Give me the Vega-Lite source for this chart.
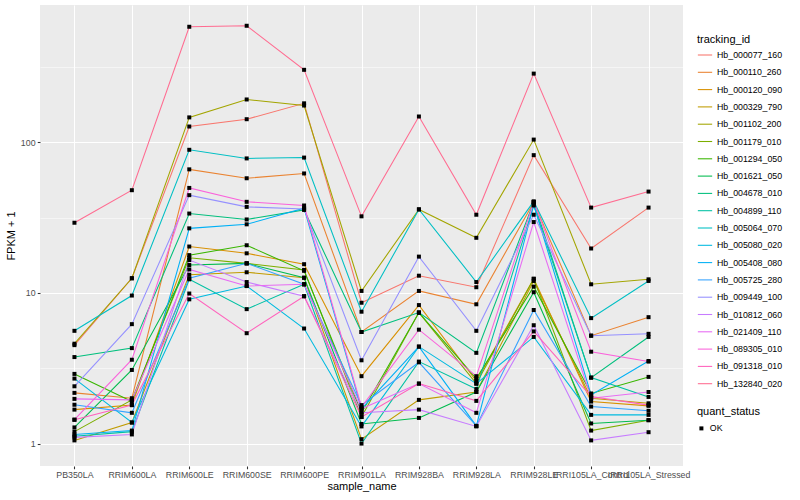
{
"$schema": "https://vega.github.io/schema/vega-lite/v6.json",
"autosize": {"type": "none"},
"padding": {"left": 40, "top": 5, "right": 117, "bottom": 34},
"width": 643,
"height": 461,
"background": "white",
"config": {
  "font": "Liberation Sans",
  "view": {"fill": "#EBEBEB", "stroke": null},
  "legend": {"titleFontSize": 11, "titleFontWeight": "normal", "titleColor": "black", "labelFontSize": 8.8, "labelColor": "black", "padding": 0, "titlePadding": 7, "labelOffset": 4}
},
"datasets": {
"rows": [
{"id":"Hb_000077_160","sample":"PB350LA","fpkm":4.5,"status":"OK"},
{"id":"Hb_000077_160","sample":"RRIM600LA","fpkm":12.5,"status":"OK"},
{"id":"Hb_000077_160","sample":"RRIM600LE","fpkm":127,"status":"OK"},
{"id":"Hb_000077_160","sample":"RRIM600SE","fpkm":142,"status":"OK"},
{"id":"Hb_000077_160","sample":"RRIM600PE","fpkm":181,"status":"OK"},
{"id":"Hb_000077_160","sample":"RRIM901LA","fpkm":8.6,"status":"OK"},
{"id":"Hb_000077_160","sample":"RRIM928BA","fpkm":13.0,"status":"OK"},
{"id":"Hb_000077_160","sample":"RRIM928LA","fpkm":10.9,"status":"OK"},
{"id":"Hb_000077_160","sample":"RRIM928LE","fpkm":82,"status":"OK"},
{"id":"Hb_000077_160","sample":"IRRI105LA_Control","fpkm":19.7,"status":"OK"},
{"id":"Hb_000077_160","sample":"IRRI105LA_Stressed","fpkm":36.8,"status":"OK"},
{"id":"Hb_000110_260","sample":"PB350LA","fpkm":2.17,"status":"OK"},
{"id":"Hb_000110_260","sample":"RRIM600LA","fpkm":2.0,"status":"OK"},
{"id":"Hb_000110_260","sample":"RRIM600LE","fpkm":66,"status":"OK"},
{"id":"Hb_000110_260","sample":"RRIM600SE","fpkm":57.6,"status":"OK"},
{"id":"Hb_000110_260","sample":"RRIM600PE","fpkm":62,"status":"OK"},
{"id":"Hb_000110_260","sample":"RRIM901LA","fpkm":5.5,"status":"OK"},
{"id":"Hb_000110_260","sample":"RRIM928BA","fpkm":10.3,"status":"OK"},
{"id":"Hb_000110_260","sample":"RRIM928LA","fpkm":8.4,"status":"OK"},
{"id":"Hb_000110_260","sample":"RRIM928LE","fpkm":40,"status":"OK"},
{"id":"Hb_000110_260","sample":"IRRI105LA_Control","fpkm":5.2,"status":"OK"},
{"id":"Hb_000110_260","sample":"IRRI105LA_Stressed","fpkm":6.9,"status":"OK"},
{"id":"Hb_000120_090","sample":"PB350LA","fpkm":1.68,"status":"OK"},
{"id":"Hb_000120_090","sample":"RRIM600LA","fpkm":1.8,"status":"OK"},
{"id":"Hb_000120_090","sample":"RRIM600LE","fpkm":20.3,"status":"OK"},
{"id":"Hb_000120_090","sample":"RRIM600SE","fpkm":18.3,"status":"OK"},
{"id":"Hb_000120_090","sample":"RRIM600PE","fpkm":15.5,"status":"OK"},
{"id":"Hb_000120_090","sample":"RRIM901LA","fpkm":2.8,"status":"OK"},
{"id":"Hb_000120_090","sample":"RRIM928BA","fpkm":8.3,"status":"OK"},
{"id":"Hb_000120_090","sample":"RRIM928LA","fpkm":2.6,"status":"OK"},
{"id":"Hb_000120_090","sample":"RRIM928LE","fpkm":12.4,"status":"OK"},
{"id":"Hb_000120_090","sample":"IRRI105LA_Control","fpkm":1.9,"status":"OK"},
{"id":"Hb_000120_090","sample":"IRRI105LA_Stressed","fpkm":1.78,"status":"OK"},
{"id":"Hb_000329_790","sample":"PB350LA","fpkm":1.05,"status":"OK"},
{"id":"Hb_000329_790","sample":"RRIM600LA","fpkm":1.38,"status":"OK"},
{"id":"Hb_000329_790","sample":"RRIM600LE","fpkm":13.2,"status":"OK"},
{"id":"Hb_000329_790","sample":"RRIM600SE","fpkm":13.7,"status":"OK"},
{"id":"Hb_000329_790","sample":"RRIM600PE","fpkm":12.6,"status":"OK"},
{"id":"Hb_000329_790","sample":"RRIM901LA","fpkm":1.07,"status":"OK"},
{"id":"Hb_000329_790","sample":"RRIM928BA","fpkm":1.95,"status":"OK"},
{"id":"Hb_000329_790","sample":"RRIM928LA","fpkm":2.2,"status":"OK"},
{"id":"Hb_000329_790","sample":"RRIM928LE","fpkm":12.0,"status":"OK"},
{"id":"Hb_000329_790","sample":"IRRI105LA_Control","fpkm":2.0,"status":"OK"},
{"id":"Hb_000329_790","sample":"IRRI105LA_Stressed","fpkm":1.85,"status":"OK"},
{"id":"Hb_001102_200","sample":"PB350LA","fpkm":4.6,"status":"OK"},
{"id":"Hb_001102_200","sample":"RRIM600LA","fpkm":12.5,"status":"OK"},
{"id":"Hb_001102_200","sample":"RRIM600LE","fpkm":146,"status":"OK"},
{"id":"Hb_001102_200","sample":"RRIM600SE","fpkm":192,"status":"OK"},
{"id":"Hb_001102_200","sample":"RRIM600PE","fpkm":175,"status":"OK"},
{"id":"Hb_001102_200","sample":"RRIM901LA","fpkm":10.3,"status":"OK"},
{"id":"Hb_001102_200","sample":"RRIM928BA","fpkm":35.8,"status":"OK"},
{"id":"Hb_001102_200","sample":"RRIM928LA","fpkm":23.2,"status":"OK"},
{"id":"Hb_001102_200","sample":"RRIM928LE","fpkm":104,"status":"OK"},
{"id":"Hb_001102_200","sample":"IRRI105LA_Control","fpkm":11.4,"status":"OK"},
{"id":"Hb_001102_200","sample":"IRRI105LA_Stressed","fpkm":12.3,"status":"OK"},
{"id":"Hb_001179_010","sample":"PB350LA","fpkm":1.2,"status":"OK"},
{"id":"Hb_001179_010","sample":"RRIM600LA","fpkm":1.95,"status":"OK"},
{"id":"Hb_001179_010","sample":"RRIM600LE","fpkm":17.1,"status":"OK"},
{"id":"Hb_001179_010","sample":"RRIM600SE","fpkm":15.7,"status":"OK"},
{"id":"Hb_001179_010","sample":"RRIM600PE","fpkm":14.2,"status":"OK"},
{"id":"Hb_001179_010","sample":"RRIM901LA","fpkm":1.5,"status":"OK"},
{"id":"Hb_001179_010","sample":"RRIM928BA","fpkm":7.4,"status":"OK"},
{"id":"Hb_001179_010","sample":"RRIM928LA","fpkm":2.5,"status":"OK"},
{"id":"Hb_001179_010","sample":"RRIM928LE","fpkm":12.4,"status":"OK"},
{"id":"Hb_001179_010","sample":"IRRI105LA_Control","fpkm":1.22,"status":"OK"},
{"id":"Hb_001179_010","sample":"IRRI105LA_Stressed","fpkm":1.43,"status":"OK"},
{"id":"Hb_001294_050","sample":"PB350LA","fpkm":2.9,"status":"OK"},
{"id":"Hb_001294_050","sample":"RRIM600LA","fpkm":1.9,"status":"OK"},
{"id":"Hb_001294_050","sample":"RRIM600LE","fpkm":17.8,"status":"OK"},
{"id":"Hb_001294_050","sample":"RRIM600SE","fpkm":20.7,"status":"OK"},
{"id":"Hb_001294_050","sample":"RRIM600PE","fpkm":14.0,"status":"OK"},
{"id":"Hb_001294_050","sample":"RRIM901LA","fpkm":1.6,"status":"OK"},
{"id":"Hb_001294_050","sample":"RRIM928BA","fpkm":7.4,"status":"OK"},
{"id":"Hb_001294_050","sample":"RRIM928LA","fpkm":2.7,"status":"OK"},
{"id":"Hb_001294_050","sample":"RRIM928LE","fpkm":11.0,"status":"OK"},
{"id":"Hb_001294_050","sample":"IRRI105LA_Control","fpkm":2.15,"status":"OK"},
{"id":"Hb_001294_050","sample":"IRRI105LA_Stressed","fpkm":2.77,"status":"OK"},
{"id":"Hb_001621_050","sample":"PB350LA","fpkm":1.28,"status":"OK"},
{"id":"Hb_001621_050","sample":"RRIM600LA","fpkm":3.08,"status":"OK"},
{"id":"Hb_001621_050","sample":"RRIM600LE","fpkm":15.3,"status":"OK"},
{"id":"Hb_001621_050","sample":"RRIM600SE","fpkm":15.7,"status":"OK"},
{"id":"Hb_001621_050","sample":"RRIM600PE","fpkm":12.6,"status":"OK"},
{"id":"Hb_001621_050","sample":"RRIM901LA","fpkm":1.35,"status":"OK"},
{"id":"Hb_001621_050","sample":"RRIM928BA","fpkm":1.48,"status":"OK"},
{"id":"Hb_001621_050","sample":"RRIM928LA","fpkm":2.2,"status":"OK"},
{"id":"Hb_001621_050","sample":"RRIM928LE","fpkm":10.1,"status":"OK"},
{"id":"Hb_001621_050","sample":"IRRI105LA_Control","fpkm":1.36,"status":"OK"},
{"id":"Hb_001621_050","sample":"IRRI105LA_Stressed","fpkm":1.43,"status":"OK"},
{"id":"Hb_004678_010","sample":"PB350LA","fpkm":3.75,"status":"OK"},
{"id":"Hb_004678_010","sample":"RRIM600LA","fpkm":4.3,"status":"OK"},
{"id":"Hb_004678_010","sample":"RRIM600LE","fpkm":33.6,"status":"OK"},
{"id":"Hb_004678_010","sample":"RRIM600SE","fpkm":30.7,"status":"OK"},
{"id":"Hb_004678_010","sample":"RRIM600PE","fpkm":35.5,"status":"OK"},
{"id":"Hb_004678_010","sample":"RRIM901LA","fpkm":5.5,"status":"OK"},
{"id":"Hb_004678_010","sample":"RRIM928BA","fpkm":7.4,"status":"OK"},
{"id":"Hb_004678_010","sample":"RRIM928LA","fpkm":4.0,"status":"OK"},
{"id":"Hb_004678_010","sample":"RRIM928LE","fpkm":40,"status":"OK"},
{"id":"Hb_004678_010","sample":"IRRI105LA_Control","fpkm":2.74,"status":"OK"},
{"id":"Hb_004678_010","sample":"IRRI105LA_Stressed","fpkm":5.1,"status":"OK"},
{"id":"Hb_004899_110","sample":"PB350LA","fpkm":1.12,"status":"OK"},
{"id":"Hb_004899_110","sample":"RRIM600LA","fpkm":1.2,"status":"OK"},
{"id":"Hb_004899_110","sample":"RRIM600LE","fpkm":12.3,"status":"OK"},
{"id":"Hb_004899_110","sample":"RRIM600SE","fpkm":7.8,"status":"OK"},
{"id":"Hb_004899_110","sample":"RRIM600PE","fpkm":11.4,"status":"OK"},
{"id":"Hb_004899_110","sample":"RRIM901LA","fpkm":1.0,"status":"OK"},
{"id":"Hb_004899_110","sample":"RRIM928BA","fpkm":3.5,"status":"OK"},
{"id":"Hb_004899_110","sample":"RRIM928LA","fpkm":2.3,"status":"OK"},
{"id":"Hb_004899_110","sample":"RRIM928LE","fpkm":38,"status":"OK"},
{"id":"Hb_004899_110","sample":"IRRI105LA_Control","fpkm":2.74,"status":"OK"},
{"id":"Hb_004899_110","sample":"IRRI105LA_Stressed","fpkm":2.04,"status":"OK"},
{"id":"Hb_005064_070","sample":"PB350LA","fpkm":5.6,"status":"OK"},
{"id":"Hb_005064_070","sample":"RRIM600LA","fpkm":9.6,"status":"OK"},
{"id":"Hb_005064_070","sample":"RRIM600LE","fpkm":89,"status":"OK"},
{"id":"Hb_005064_070","sample":"RRIM600SE","fpkm":78,"status":"OK"},
{"id":"Hb_005064_070","sample":"RRIM600PE","fpkm":79,"status":"OK"},
{"id":"Hb_005064_070","sample":"RRIM901LA","fpkm":7.5,"status":"OK"},
{"id":"Hb_005064_070","sample":"RRIM928BA","fpkm":35.8,"status":"OK"},
{"id":"Hb_005064_070","sample":"RRIM928LA","fpkm":11.8,"status":"OK"},
{"id":"Hb_005064_070","sample":"RRIM928LE","fpkm":40.5,"status":"OK"},
{"id":"Hb_005064_070","sample":"IRRI105LA_Control","fpkm":6.8,"status":"OK"},
{"id":"Hb_005064_070","sample":"IRRI105LA_Stressed","fpkm":12.0,"status":"OK"},
{"id":"Hb_005080_020","sample":"PB350LA","fpkm":2.7,"status":"OK"},
{"id":"Hb_005080_020","sample":"RRIM600LA","fpkm":1.38,"status":"OK"},
{"id":"Hb_005080_020","sample":"RRIM600LE","fpkm":9.06,"status":"OK"},
{"id":"Hb_005080_020","sample":"RRIM600SE","fpkm":11.1,"status":"OK"},
{"id":"Hb_005080_020","sample":"RRIM600PE","fpkm":5.8,"status":"OK"},
{"id":"Hb_005080_020","sample":"RRIM901LA","fpkm":1.3,"status":"OK"},
{"id":"Hb_005080_020","sample":"RRIM928BA","fpkm":4.4,"status":"OK"},
{"id":"Hb_005080_020","sample":"RRIM928LA","fpkm":2.5,"status":"OK"},
{"id":"Hb_005080_020","sample":"RRIM928LE","fpkm":5.1,"status":"OK"},
{"id":"Hb_005080_020","sample":"IRRI105LA_Control","fpkm":1.55,"status":"OK"},
{"id":"Hb_005080_020","sample":"IRRI105LA_Stressed","fpkm":1.55,"status":"OK"},
{"id":"Hb_005408_080","sample":"PB350LA","fpkm":1.15,"status":"OK"},
{"id":"Hb_005408_080","sample":"RRIM600LA","fpkm":1.22,"status":"OK"},
{"id":"Hb_005408_080","sample":"RRIM600LE","fpkm":26.8,"status":"OK"},
{"id":"Hb_005408_080","sample":"RRIM600SE","fpkm":28.5,"status":"OK"},
{"id":"Hb_005408_080","sample":"RRIM600PE","fpkm":36.5,"status":"OK"},
{"id":"Hb_005408_080","sample":"RRIM901LA","fpkm":1.7,"status":"OK"},
{"id":"Hb_005408_080","sample":"RRIM928BA","fpkm":4.4,"status":"OK"},
{"id":"Hb_005408_080","sample":"RRIM928LA","fpkm":1.31,"status":"OK"},
{"id":"Hb_005408_080","sample":"RRIM928LE","fpkm":38.5,"status":"OK"},
{"id":"Hb_005408_080","sample":"IRRI105LA_Control","fpkm":2.1,"status":"OK"},
{"id":"Hb_005408_080","sample":"IRRI105LA_Stressed","fpkm":3.53,"status":"OK"},
{"id":"Hb_005725_280","sample":"PB350LA","fpkm":1.81,"status":"OK"},
{"id":"Hb_005725_280","sample":"RRIM600LA","fpkm":1.6,"status":"OK"},
{"id":"Hb_005725_280","sample":"RRIM600LE","fpkm":12.5,"status":"OK"},
{"id":"Hb_005725_280","sample":"RRIM600SE","fpkm":15.7,"status":"OK"},
{"id":"Hb_005725_280","sample":"RRIM600PE","fpkm":11.4,"status":"OK"},
{"id":"Hb_005725_280","sample":"RRIM901LA","fpkm":1.8,"status":"OK"},
{"id":"Hb_005725_280","sample":"RRIM928BA","fpkm":3.46,"status":"OK"},
{"id":"Hb_005725_280","sample":"RRIM928LA","fpkm":1.31,"status":"OK"},
{"id":"Hb_005725_280","sample":"RRIM928LE","fpkm":7.7,"status":"OK"},
{"id":"Hb_005725_280","sample":"IRRI105LA_Control","fpkm":1.76,"status":"OK"},
{"id":"Hb_005725_280","sample":"IRRI105LA_Stressed","fpkm":1.65,"status":"OK"},
{"id":"Hb_009449_100","sample":"PB350LA","fpkm":2.4,"status":"OK"},
{"id":"Hb_009449_100","sample":"RRIM600LA","fpkm":6.2,"status":"OK"},
{"id":"Hb_009449_100","sample":"RRIM600LE","fpkm":44.5,"status":"OK"},
{"id":"Hb_009449_100","sample":"RRIM600SE","fpkm":37.2,"status":"OK"},
{"id":"Hb_009449_100","sample":"RRIM600PE","fpkm":36,"status":"OK"},
{"id":"Hb_009449_100","sample":"RRIM901LA","fpkm":3.57,"status":"OK"},
{"id":"Hb_009449_100","sample":"RRIM928BA","fpkm":17.4,"status":"OK"},
{"id":"Hb_009449_100","sample":"RRIM928LA","fpkm":5.6,"status":"OK"},
{"id":"Hb_009449_100","sample":"RRIM928LE","fpkm":33,"status":"OK"},
{"id":"Hb_009449_100","sample":"IRRI105LA_Control","fpkm":5.2,"status":"OK"},
{"id":"Hb_009449_100","sample":"IRRI105LA_Stressed","fpkm":5.35,"status":"OK"},
{"id":"Hb_010812_060","sample":"PB350LA","fpkm":1.1,"status":"OK"},
{"id":"Hb_010812_060","sample":"RRIM600LA","fpkm":1.15,"status":"OK"},
{"id":"Hb_010812_060","sample":"RRIM600LE","fpkm":16.5,"status":"OK"},
{"id":"Hb_010812_060","sample":"RRIM600SE","fpkm":11.8,"status":"OK"},
{"id":"Hb_010812_060","sample":"RRIM600PE","fpkm":9.5,"status":"OK"},
{"id":"Hb_010812_060","sample":"RRIM901LA","fpkm":1.6,"status":"OK"},
{"id":"Hb_010812_060","sample":"RRIM928BA","fpkm":1.68,"status":"OK"},
{"id":"Hb_010812_060","sample":"RRIM928LA","fpkm":1.3,"status":"OK"},
{"id":"Hb_010812_060","sample":"RRIM928LE","fpkm":6.1,"status":"OK"},
{"id":"Hb_010812_060","sample":"IRRI105LA_Control","fpkm":1.05,"status":"OK"},
{"id":"Hb_010812_060","sample":"IRRI105LA_Stressed","fpkm":1.19,"status":"OK"},
{"id":"Hb_021409_110","sample":"PB350LA","fpkm":1.98,"status":"OK"},
{"id":"Hb_021409_110","sample":"RRIM600LA","fpkm":1.95,"status":"OK"},
{"id":"Hb_021409_110","sample":"RRIM600LE","fpkm":14.3,"status":"OK"},
{"id":"Hb_021409_110","sample":"RRIM600SE","fpkm":11.1,"status":"OK"},
{"id":"Hb_021409_110","sample":"RRIM600PE","fpkm":11.4,"status":"OK"},
{"id":"Hb_021409_110","sample":"RRIM901LA","fpkm":1.7,"status":"OK"},
{"id":"Hb_021409_110","sample":"RRIM928BA","fpkm":2.5,"status":"OK"},
{"id":"Hb_021409_110","sample":"RRIM928LA","fpkm":1.6,"status":"OK"},
{"id":"Hb_021409_110","sample":"RRIM928LE","fpkm":29.5,"status":"OK"},
{"id":"Hb_021409_110","sample":"IRRI105LA_Control","fpkm":2.0,"status":"OK"},
{"id":"Hb_021409_110","sample":"IRRI105LA_Stressed","fpkm":2.2,"status":"OK"},
{"id":"Hb_089305_010","sample":"PB350LA","fpkm":1.44,"status":"OK"},
{"id":"Hb_089305_010","sample":"RRIM600LA","fpkm":3.6,"status":"OK"},
{"id":"Hb_089305_010","sample":"RRIM600LE","fpkm":49.7,"status":"OK"},
{"id":"Hb_089305_010","sample":"RRIM600SE","fpkm":40.2,"status":"OK"},
{"id":"Hb_089305_010","sample":"RRIM600PE","fpkm":38,"status":"OK"},
{"id":"Hb_089305_010","sample":"RRIM901LA","fpkm":1.75,"status":"OK"},
{"id":"Hb_089305_010","sample":"RRIM928BA","fpkm":5.7,"status":"OK"},
{"id":"Hb_089305_010","sample":"RRIM928LA","fpkm":2.8,"status":"OK"},
{"id":"Hb_089305_010","sample":"RRIM928LE","fpkm":40,"status":"OK"},
{"id":"Hb_089305_010","sample":"IRRI105LA_Control","fpkm":4.07,"status":"OK"},
{"id":"Hb_089305_010","sample":"IRRI105LA_Stressed","fpkm":3.5,"status":"OK"},
{"id":"Hb_091318_010","sample":"PB350LA","fpkm":1.44,"status":"OK"},
{"id":"Hb_091318_010","sample":"RRIM600LA","fpkm":1.8,"status":"OK"},
{"id":"Hb_091318_010","sample":"RRIM600LE","fpkm":9.9,"status":"OK"},
{"id":"Hb_091318_010","sample":"RRIM600SE","fpkm":5.4,"status":"OK"},
{"id":"Hb_091318_010","sample":"RRIM600PE","fpkm":9.5,"status":"OK"},
{"id":"Hb_091318_010","sample":"RRIM901LA","fpkm":1.5,"status":"OK"},
{"id":"Hb_091318_010","sample":"RRIM928BA","fpkm":2.5,"status":"OK"},
{"id":"Hb_091318_010","sample":"RRIM928LA","fpkm":1.92,"status":"OK"},
{"id":"Hb_091318_010","sample":"RRIM928LE","fpkm":5.55,"status":"OK"},
{"id":"Hb_091318_010","sample":"IRRI105LA_Control","fpkm":2.05,"status":"OK"},
{"id":"Hb_091318_010","sample":"IRRI105LA_Stressed","fpkm":1.8,"status":"OK"},
{"id":"Hb_132840_020","sample":"PB350LA","fpkm":29.2,"status":"OK"},
{"id":"Hb_132840_020","sample":"RRIM600LA","fpkm":48,"status":"OK"},
{"id":"Hb_132840_020","sample":"RRIM600LE","fpkm":583,"status":"OK"},
{"id":"Hb_132840_020","sample":"RRIM600SE","fpkm":592,"status":"OK"},
{"id":"Hb_132840_020","sample":"RRIM600PE","fpkm":302,"status":"OK"},
{"id":"Hb_132840_020","sample":"RRIM901LA","fpkm":32.2,"status":"OK"},
{"id":"Hb_132840_020","sample":"RRIM928BA","fpkm":148,"status":"OK"},
{"id":"Hb_132840_020","sample":"RRIM928LA","fpkm":33,"status":"OK"},
{"id":"Hb_132840_020","sample":"RRIM928LE","fpkm":285,"status":"OK"},
{"id":"Hb_132840_020","sample":"IRRI105LA_Control","fpkm":36.8,"status":"OK"},
{"id":"Hb_132840_020","sample":"IRRI105LA_Stressed","fpkm":47,"status":"OK"}
]
},
"data": {"name": "rows"},
"encoding": {
  "x": {"field": "sample", "type": "nominal",
    "sort": ["PB350LA","RRIM600LA","RRIM600LE","RRIM600SE","RRIM600PE","RRIM901LA","RRIM928BA","RRIM928LA","RRIM928LE","IRRI105LA_Control","IRRI105LA_Stressed"],
    "scale": {"type": "point", "padding": 0.6},
    "axis": {"title": "sample_name", "labelAngle": 0, "labelOverlap": false, "grid": true, "gridColor": "white", "gridWidth": 1.07, "domain": false, "tickColor": "#333333", "tickSize": 2.75, "tickWidth": 1.07, "labelColor": "#4D4D4D", "labelFontSize": 8.8, "labelPadding": 2.2, "titleFontSize": 11, "titleFontWeight": "normal", "titleColor": "black", "titlePadding": 1}},
  "y": {"field": "fpkm", "type": "quantitative",
    "scale": {"type": "log", "domain": [0.71, 813], "nice": false},
    "axis": {"title": "FPKM + 1", "values": [1, 3.1623, 10, 31.623, 100, 316.23],
      "labelExpr": "(datum.value==1||datum.value==10||datum.value==100) ? format(datum.value, 'd') : ''",
      "grid": true, "gridColor": "white",
      "gridWidth": {"condition": {"test": "datum.value==1||datum.value==10||datum.value==100", "value": 1.07}, "value": 0.53},
      "tickOpacity": {"condition": {"test": "datum.value==1||datum.value==10||datum.value==100", "value": 1}, "value": 0},
      "domain": false, "tickColor": "#333333", "tickSize": 2.75, "tickWidth": 1.07, "labelColor": "#4D4D4D", "labelFontSize": 8.8, "labelPadding": 2.2, "titleFontSize": 11, "titleFontWeight": "normal", "titleColor": "black", "titlePadding": 4}}
},
"layer": [
  {"mark": {"type": "line", "strokeWidth": 1.07, "clip": true},
   "encoding": {
     "color": {"field": "id", "type": "nominal",
       "scale": {"domain": ["Hb_000077_160","Hb_000110_260","Hb_000120_090","Hb_000329_790","Hb_001102_200","Hb_001179_010","Hb_001294_050","Hb_001621_050","Hb_004678_010","Hb_004899_110","Hb_005064_070","Hb_005080_020","Hb_005408_080","Hb_005725_280","Hb_009449_100","Hb_010812_060","Hb_021409_110","Hb_089305_010","Hb_091318_010","Hb_132840_020"],
         "range": ["#F8766D","#EA8331","#D89000","#C09B00","#A3A500","#7CAE00","#39B600","#00BB4E","#00BF7D","#00C1A3","#00BFC4","#00BAE0","#00B0F6","#35A2FF","#9590FF","#C77CFF","#E76BF3","#FA62DB","#FF62BC","#FF6C91"]},
       "legend": {"title": "tracking_id", "orient": "none", "legendX": 657, "legendY": 29, "titlePadding": 2, "symbolType": "stroke", "symbolSize": 205, "symbolStrokeWidth": 1.07, "rowPadding": 4.3}}
   }},
  {"mark": {"type": "point", "filled": true, "color": "black", "size": 16, "opacity": 1},
   "encoding": {
     "shape": {"field": "status", "type": "nominal", "scale": {"range": ["square"]},
       "legend": {"title": "quant_status", "orient": "none", "legendX": 657, "legendY": 401, "symbolSize": 16, "symbolFillColor": "black", "symbolStrokeColor": "black"}}
   }}
]
}
